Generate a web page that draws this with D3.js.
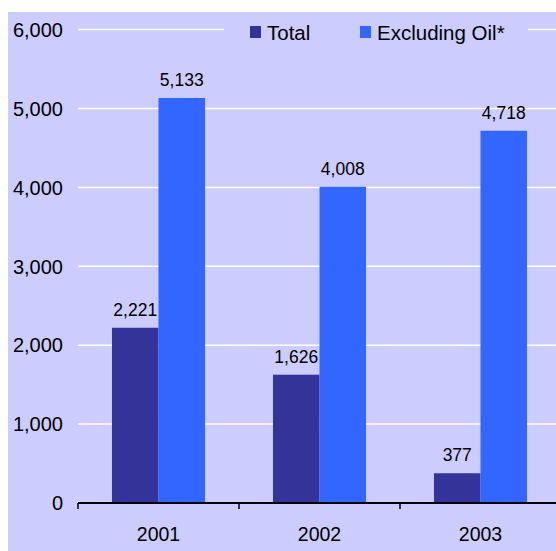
<!DOCTYPE html>
<html>
<head>
<meta charset="utf-8">
<script src="https://cdn.jsdelivr.net/npm/d3@7"></script>
<style>
  html, body { margin: 0; padding: 0; background: #ffffff; }
  svg { display: block; }
  text { font-family: "Liberation Sans", Arial, sans-serif; fill: #000; }
</style>
</head>
<body>
<svg id="chart" width="556" height="551"></svg>
<script>
// Chart data
const years = ["2001", "2002", "2003"];
const seriesNames = ["Total", "Excluding Oil*"];
const totalValues = [2221, 1626, 377];
const exclOilValues = [5133, 4008, 4718];
const yTickValues = [0, 1000, 2000, 3000, 4000, 5000, 6000];
const seriesColors = ["#333399", "#3366FF"];

const svg = d3.select("#chart");
const W = 556, H = 551;

// Plot panel background
svg.append("rect")
  .attr("x", 8).attr("y", 12)
  .attr("width", W - 8).attr("height", H - 12)
  .attr("fill", "#CCCCFF");

const x0 = d3.scaleBand().domain(years).range([78, 561]).paddingInner(0.422).paddingOuter(0.211);
const x1 = d3.scaleBand().domain(seriesNames).range([0, x0.bandwidth()]);
const y = d3.scaleLinear().domain([0, 6000]).range([503, 29.6]);
const fmt = d3.format(",");

// Horizontal grid lines
svg.append("g")
  .selectAll("line")
  .data(yTickValues.filter(v => v > 0))
  .join("line")
  .attr("x1", 78).attr("x2", W)
  .attr("y1", d => y(d)).attr("y2", d => y(d))
  .attr("stroke", "#ffffff").attr("stroke-width", 1.5);

// Y axis labels
svg.append("g")
  .selectAll("text")
  .data(yTickValues)
  .join("text")
  .attr("x", 63)
  .attr("y", d => y(d))
  .attr("dy", "0.36em")
  .attr("text-anchor", "end")
  .attr("font-size", 20)
  .text(d => fmt(d));

// Bars
const rows = years.map((yr, i) => ({ year: yr, values: [totalValues[i], exclOilValues[i]] }));
const groups = svg.append("g")
  .selectAll("g")
  .data(rows)
  .join("g")
  .attr("transform", d => `translate(${x0(d.year)},0)`);

groups.selectAll("rect")
  .data(d => d.values.map((v, j) => ({ name: seriesNames[j], value: v, j })))
  .join("rect")
  .attr("x", d => x1(d.name))
  .attr("width", x1.bandwidth())
  .attr("y", d => y(d.value))
  .attr("height", d => y(0) - y(d.value))
  .attr("fill", d => seriesColors[d.j]);

// Value labels
groups.selectAll("text")
  .data(d => d.values.map((v, j) => ({ name: seriesNames[j], value: v })))
  .join("text")
  .attr("x", d => x1(d.name) + x1.bandwidth() / 2)
  .attr("y", d => y(d.value) - 12)
  .attr("text-anchor", "middle")
  .attr("font-size", 17.5)
  .text(d => fmt(d.value));

// X axis
const axisG = svg.append("g").attr("transform", `translate(0,${y(0)})`);
axisG.append("line")
  .attr("x1", 78).attr("x2", W)
  .attr("y1", 0).attr("y2", 0)
  .attr("stroke", "#000").attr("stroke-width", 2);
const boundaries = [78, ...years.map(yr => x0(yr) - x0.step() * x0.paddingInner() / 2 + x0.step())];
axisG.selectAll("line.tick")
  .data(boundaries)
  .join("line")
  .attr("class", "tick")
  .attr("x1", d => d).attr("x2", d => d)
  .attr("y1", 0).attr("y2", 6)
  .attr("stroke", "#000").attr("stroke-width", 1.5);
axisG.selectAll("text.cat")
  .data(years)
  .join("text")
  .attr("class", "cat")
  .attr("x", d => x0(d) + x0.bandwidth() / 2)
  .attr("y", 38)
  .attr("text-anchor", "middle")
  .attr("font-size", 19.5)
  .text(d => d);

// Legend
const legend = svg.append("g");
legend.append("rect")
  .attr("x", 224).attr("y", 18)
  .attr("width", 304).attr("height", 28)
  .attr("fill", "#CCCCFF");
const legendX = [250, 360];
seriesNames.forEach((name, i) => {
  legend.append("rect")
    .attr("x", legendX[i]).attr("y", 26)
    .attr("width", 11).attr("height", 12)
    .attr("fill", seriesColors[i]);
  legend.append("text")
    .attr("x", legendX[i] + 17).attr("y", 40)
    .attr("font-size", 20.5)
    .text(name);
});
</script>
</body>
</html>
